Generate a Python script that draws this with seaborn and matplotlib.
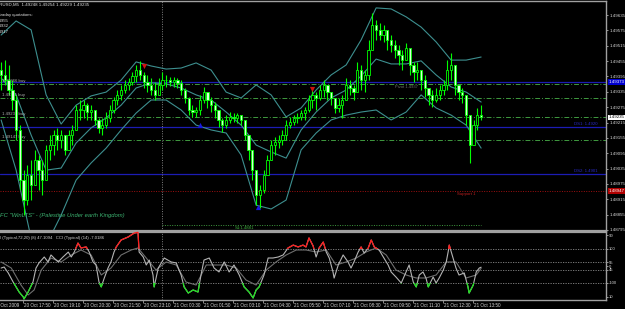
import numpy as np
import pandas as pd
import matplotlib
matplotlib.use("Agg")
import matplotlib.pyplot as plt
import seaborn as sns
from matplotlib.transforms import blended_transform_factory
from matplotlib.patches import Rectangle

# ---------------- data ----------------
chart_title = "EURUSD,M5  1.49248 1.49254 1.49229 1.49235"
intraday_lines = ["Intraday quotations:", "1.4955", "1.4932", "1.4917"]
signature = 'FC "WinLTS" - (Palestine Under earth Kingdom)'
osc_caption = "I (Typical,72,20) (8) 47.1094   CCI (Typical) (14) -7.0186"

first_open = 1.49420
highs = [1.49452, 1.49459, 1.49440, 1.49381, 1.49323, 1.49205, 1.49029, 1.49049, 1.49068, 1.49108,
         1.49088, 1.49068, 1.49127, 1.49166, 1.49186, 1.49194, 1.49186, 1.49166, 1.49186, 1.49205,
         1.49283, 1.49303, 1.49303, 1.49291, 1.49283, 1.49264, 1.49233, 1.49233, 1.49256, 1.49283,
         1.49315, 1.49342, 1.49362, 1.49381, 1.49389, 1.49412, 1.49440, 1.49456, 1.49412, 1.49401,
         1.49389, 1.49373, 1.49389, 1.49412, 1.49401, 1.49393, 1.49393, 1.49389, 1.49381, 1.49350,
         1.49315, 1.49283, 1.49276, 1.49323, 1.49354, 1.49334, 1.49315, 1.49295, 1.49264, 1.49233,
         1.49244, 1.49256, 1.49252, 1.49252, 1.49244, 1.49225, 1.49166, 1.49108, 1.49029, 1.48971,
         1.49029, 1.49088, 1.49147, 1.49158, 1.49166, 1.49186, 1.49225, 1.49237, 1.49244, 1.49252,
         1.49264, 1.49276, 1.49323, 1.49342, 1.49334, 1.49362, 1.49381, 1.49362, 1.49334, 1.49303,
         1.49311, 1.49323, 1.49389, 1.49381, 1.49362, 1.49452, 1.49440, 1.49420, 1.49538, 1.49643,
         1.49616, 1.49604, 1.49596, 1.49565, 1.49557, 1.49538, 1.49518, 1.49499, 1.49526, 1.49499,
         1.49452, 1.49452, 1.49420, 1.49401, 1.49350, 1.49342, 1.49350, 1.49362, 1.49381, 1.49459,
         1.49487, 1.49420, 1.49362, 1.49350, 1.49323, 1.49244, 1.49225, 1.49272, 1.49283]
lows = [1.49342, 1.49362, 1.49323, 1.49264, 1.49147, 1.48951, 1.48853, 1.48892, 1.48912, 1.48971,
        1.48951, 1.48931, 1.49029, 1.49068, 1.49088, 1.49108, 1.49115, 1.49088, 1.49108, 1.49127,
        1.49186, 1.49225, 1.49233, 1.49225, 1.49225, 1.49205, 1.49174, 1.49166, 1.49194, 1.49217,
        1.49252, 1.49283, 1.49303, 1.49330, 1.49342, 1.49362, 1.49373, 1.49381, 1.49350, 1.49334,
        1.49323, 1.49303, 1.49323, 1.49342, 1.49354, 1.49358, 1.49354, 1.49350, 1.49323, 1.49291,
        1.49244, 1.49237, 1.49237, 1.49244, 1.49291, 1.49272, 1.49256, 1.49233, 1.49197, 1.49178,
        1.49194, 1.49213, 1.49217, 1.49213, 1.49205, 1.49147, 1.49068, 1.48990, 1.48892, 1.48881,
        1.48939, 1.49010, 1.49068, 1.49088, 1.49115, 1.49127, 1.49147, 1.49194, 1.49205, 1.49213,
        1.49225, 1.49225, 1.49256, 1.49272, 1.49264, 1.49303, 1.49315, 1.49303, 1.49283, 1.49252,
        1.49256, 1.49233, 1.49315, 1.49323, 1.49303, 1.49342, 1.49342, 1.49334, 1.49381, 1.49499,
        1.49538, 1.49538, 1.49530, 1.49499, 1.49491, 1.49467, 1.49440, 1.49420, 1.49459, 1.49401,
        1.49373, 1.49381, 1.49342, 1.49315, 1.49283, 1.49276, 1.49295, 1.49303, 1.49323, 1.49342,
        1.49381, 1.49323, 1.49303, 1.49291, 1.49205, 1.49057, 1.49127, 1.49186, 1.49225]
closes = [1.49401, 1.49381, 1.49342, 1.49303, 1.49186, 1.48990, 1.48912, 1.49010, 1.48971, 1.49068,
          1.49029, 1.48990, 1.49108, 1.49127, 1.49166, 1.49147, 1.49166, 1.49108, 1.49166, 1.49186,
          1.49264, 1.49264, 1.49283, 1.49256, 1.49264, 1.49225, 1.49194, 1.49205, 1.49233, 1.49264,
          1.49303, 1.49323, 1.49342, 1.49362, 1.49373, 1.49397, 1.49420, 1.49401, 1.49373, 1.49362,
          1.49342, 1.49323, 1.49362, 1.49381, 1.49381, 1.49373, 1.49381, 1.49370, 1.49342, 1.49311,
          1.49264, 1.49256, 1.49264, 1.49303, 1.49334, 1.49303, 1.49283, 1.49264, 1.49225, 1.49205,
          1.49225, 1.49237, 1.49233, 1.49244, 1.49225, 1.49166, 1.49108, 1.49029, 1.48931, 1.48951,
          1.49010, 1.49068, 1.49127, 1.49139, 1.49147, 1.49166, 1.49205, 1.49217, 1.49233, 1.49237,
          1.49252, 1.49264, 1.49303, 1.49323, 1.49311, 1.49342, 1.49362, 1.49334, 1.49311, 1.49272,
          1.49283, 1.49303, 1.49362, 1.49350, 1.49334, 1.49420, 1.49381, 1.49401, 1.49499, 1.49596,
          1.49577, 1.49557, 1.49577, 1.49538, 1.49518, 1.49499, 1.49479, 1.49459, 1.49506, 1.49440,
          1.49412, 1.49420, 1.49381, 1.49350, 1.49323, 1.49303, 1.49323, 1.49342, 1.49362, 1.49420,
          1.49440, 1.49362, 1.49334, 1.49323, 1.49244, 1.49127, 1.49205, 1.49244, 1.49235]

band_bars = [0, 4, 8, 12, 16, 20, 24, 28, 32, 36, 40, 44, 48, 52, 56, 60, 64,
             68, 72, 76, 80, 84, 88, 92, 96, 100, 104, 108, 112, 116, 120, 124, 128]
upper_band = [1.49557, 1.49612, 1.49577, 1.49323, 1.49209, 1.49283, 1.49319, 1.49334, 1.49381,
              1.49452, 1.49436, 1.49424, 1.49428, 1.49448, 1.49420, 1.49334, 1.49311, 1.49362,
              1.49323, 1.49237, 1.49272, 1.49342, 1.49401, 1.49440, 1.49538, 1.49663, 1.49659,
              1.49628, 1.49588, 1.49530, 1.49459, 1.49459, 1.49471]
middle_band = [1.49389, 1.49323, 1.49166, 1.49029, 1.49037, 1.49135, 1.49194, 1.49233, 1.49283,
               1.49350, 1.49370, 1.49366, 1.49350, 1.49323, 1.49303, 1.49256, 1.49205, 1.49127,
               1.49100, 1.49076, 1.49186, 1.49256, 1.49311, 1.49342, 1.49397, 1.49463, 1.49444,
               1.49444, 1.49456, 1.49401, 1.49354, 1.49334, 1.49295]
lower_band = [1.49225, 1.49029, 1.48763, 1.48736, 1.48853, 1.48990, 1.49057, 1.49115, 1.49186,
              1.49252, 1.49303, 1.49303, 1.49264, 1.49205, 1.49186, 1.49174, 1.49088, 1.48892,
              1.48877, 1.48912, 1.49108, 1.49174, 1.49225, 1.49244, 1.49256, 1.49264, 1.49225,
              1.49256, 1.49323, 1.49272, 1.49244, 1.49205, 1.49115]

sell_arrow_bars = [38, 83]
sell_arrow_prices = [1.49436, 1.49345]
buy_arrow_bars = [53, 68.5]
buy_arrow_prices = [1.49205, 1.48884]

buy_levels = [1.49366, 1.49311, 1.49237, 1.49147]
buy_labels = ["1.49366 buy", "1.49311 buy", "1.49237 buy", "1.49147 buy"]
blue_levels = [1.49373, 1.49197, 1.49014]
blue_labels = ["", "DS1: 1.4920", "DS2: 1.4901"]
support1 = 1.48947
s1_level = 1.48814
day_separator_bar = 42.9
current_price = 1.49235

price_ticks = [1.49635, 1.49575, 1.49515, 1.49455, 1.49395, 1.49335, 1.49275, 1.49215,
               1.49155, 1.49095, 1.49035, 1.48975, 1.48915, 1.48855, 1.48795]

time_label_bars = [-2.13, 5.87, 13.87, 21.87, 29.87, 37.87, 45.87, 53.87, 61.87,
                   69.87, 77.87, 85.87, 93.87, 101.87, 109.87, 117.87, 125.87]
time_labels = ["20 Oct 2009", "20 Oct 17:50", "20 Oct 19:10", "20 Oct 20:30", "20 Oct 21:50",
               "20 Oct 23:10", "21 Oct 00:30", "21 Oct 01:50", "21 Oct 03:10", "21 Oct 04:30",
               "21 Oct 05:50", "21 Oct 07:10", "21 Oct 08:30", "21 Oct 09:50", "21 Oct 11:10",
               "21 Oct 12:30", "21 Oct 13:50"]

cci_bars = [0, 0.8, 1.9, 3.2, 4, 4.8, 5.9, 6.1, 7.2, 8.5, 9.3, 10.1, 11.5, 12.5, 13.3, 14.1, 15.2,
            16.5, 17.9, 18.7, 19.5, 20.5, 21.3, 22.7, 23.5, 24.5, 25.3, 26.1, 26.7, 27.5, 28.5,
            29.3, 30.1, 30.7, 32, 33.9, 35.5, 36.5, 36.8, 37.9, 38.7, 39.5, 40.5, 40.8, 41.9,
            42.7, 43.5, 45.3, 46.7, 48, 48.8, 49.9, 51.2, 52.5, 53.3, 54.1, 55.5, 56.8, 58.1,
            59.5, 60.8, 62.1, 63.5, 64.8, 66.1, 67.2, 68, 68.8, 70.1, 71.2, 72.5, 73.9, 75.2,
            76.5, 77.9, 79.2, 80.5, 81.3, 82.1, 83.2, 84, 84.8, 85.9, 86.7, 87.5, 88.5, 88.8,
            89.9, 91.2, 92.5, 93.3, 94.1, 95.2, 96, 96.8, 97.9, 98.7, 99.5, 100.8, 102.1, 103.2,
            104, 105.3, 106.7, 108, 108.8, 109.9, 110.7, 111.5, 112.5, 113.3, 113.9, 115.2, 116,
            116.8, 117.9, 118.7, 119.2, 119.5, 120.5, 121.3, 122.1, 123.5, 124.5, 124.8, 125.9,
            126.7, 127.5, 128]
cci_vals = [-12, -6, -41, -94, -123, -153, -182, -194, -153, -94, -12, 18, 53, 24, 65, 47, 24,
            53, 82, 53, 82, 135, 106, 112, 82, 24, 6, -94, -123, -71, -12,
            24, 82, 112, 153, 171, 194, 198, 82, 53, 6, 35, -53, -123, -12,
            18, 47, 24, 18, -53, -123, -159, -141, -153, -53, 35, 47, -12, -35,
            24, -35, 6, -53, -123, -153, -188, -141, -123, -53, 47, 47, 53, 65,
            106, 123, 112, 123, 112, 165, 118, 53, 106, 141, 82, 47, -35, -71,
            6, 65, 24, -12, 24, 82, 112, 76, 106, 153, 112, 94, 47, 6,
            -35, -65, -100, -35, 6, -94, -123, -53, -35, -71, -123, -65, -100,
            -71, -24, 24, 82, 123, 47, -12, -53, -41, -123, -159, -112,
            -35, -12, -7]

osc_bars = [0, 2.7, 5.3, 7.2, 8.8, 10.7, 13.3, 16, 18.7, 21.3, 24, 26.7, 29.3, 32, 34.7, 36.5,
            38.7, 41.3, 44, 46.7, 49.3, 52, 54.7, 57.3, 60, 62.7, 65.3, 68, 70.7, 73.3, 76,
            78.7, 81.3, 84, 86.7, 89.3, 92, 94.7, 97.3, 100, 102.7, 105.3, 108, 110.7, 113.3,
            116, 118.7, 121.3, 124, 126.7, 128]
osc_vals = [55.2, 47.4, 25.4, 12.5, 19.0, 44.8, 60.3, 55.2, 64.2, 70.7, 64.2, 38.4, 47.4, 64.2,
            70.7, 73.3, 60.3, 44.8, 55.2, 51.3, 29.3, 25.4, 51.3, 51.3, 51.3, 47.4, 31.9, 25.4,
            44.8, 55.2, 64.2, 70.7, 70.7, 68.1, 70.7, 51.3, 55.2, 60.3, 68.1, 73.3, 64.2, 44.8,
            38.4, 34.5, 34.5, 38.4, 55.2, 55.2, 34.5, 38.4, 47.1]
osc_ticks = [90, 55, 45, 10]
cci_ticks = [100, 0, -100]

# ---------------- style ----------------
sns.set_style("dark", rc={"axes.facecolor": "black", "figure.facecolor": "black"})
plt.rcParams["font.family"] = ["DejaVu Sans"]
SMALL = ["Liberation Sans", "DejaVu Sans"]

W, H = 625, 309
fig = plt.figure(figsize=(W / 100, H / 100), dpi=100, facecolor="black")
ax = fig.add_axes([0, 1 - 231 / H, 606 / W, 230 / H])
ax2 = fig.add_axes([0, 1 - 300 / H, 606 / W, 68 / H])
for a in (ax, ax2):
    a.set_facecolor("black")
    a.grid(False)
    a.spines["left"].set_visible(False)
    for s in ("top", "right", "bottom"):
        a.spines[s].set_visible(True)
        a.spines[s].set_color("#a0a0a0")
        a.spines[s].set_linewidth(1.0)
ax.spines["bottom"].set_linewidth(1.6)
ax2.spines["top"].set_linewidth(1.6)

XMIN, XMAX = -0.3, 161.3
ax.set_xlim(XMIN, XMAX)
ax2.set_xlim(XMIN, XMAX)
ax.set_ylim(1.48791, 1.49690)
ax2.set_ylim(-200, 200)

# ---------------- main panel ----------------
idx = np.arange(len(closes))
opens = [first_open] + closes[:-1]
df = pd.DataFrame({"bar": idx, "open": opens, "high": highs, "low": lows, "close": closes})

for lv in blue_levels:
    ax.axhline(lv, color="#1c1cb4", lw=0.9, zorder=1)
for lv in buy_levels:
    ax.axhline(lv, color="#3f9a3f", lw=0.7, ls=(0, (5, 2, 1, 2)), zorder=1)
ax.axhline(support1, color="#a01010", lw=0.7, ls=(0, (1, 1.5)), zorder=1)
ax.plot([day_separator_bar, len(closes) - 1], [s1_level, s1_level], color="#3f9a3f",
        lw=0.7, ls=(0, (1, 1.5)), zorder=1)
ax.axvline(day_separator_bar, color="#808080", lw=0.7, ls=(0, (1, 1.5)), zorder=1)
ax2.axvline(day_separator_bar, color="#808080", lw=0.7, ls=(0, (1, 1.5)), zorder=1)

bands = pd.DataFrame({"bar": band_bars, "upper": upper_band, "middle": middle_band, "lower": lower_band})
for col in ("upper", "middle", "lower"):
    sns.lineplot(data=bands, x="bar", y=col, ax=ax, color="#3d8f8f", lw=0.8,
                 estimator=None, sort=False, zorder=2)

ax.vlines(df["bar"], df["low"], df["high"], color="#00ff00", lw=0.8, zorder=3)
bull = df[df["close"] >= df["open"]]
bear = df[df["close"] < df["open"]]
ax.bar(bull["bar"], (bull["close"] - bull["open"]).clip(lower=0.00002), bottom=bull["open"],
       width=0.6, color="black", edgecolor="#00ff00", lw=0.6, zorder=4)
ax.bar(bear["bar"], bear["close"] - bear["open"], bottom=bear["open"],
       width=0.6, color="#d8ffd8", edgecolor="#00ff00", lw=0.6, zorder=4)

ax.scatter(sell_arrow_bars, sell_arrow_prices, marker="v", s=14, color="#d01010", zorder=5, lw=0)
ax.scatter(buy_arrow_bars, buy_arrow_prices, marker="^", s=14, color="#1818e0", zorder=5, lw=0)

PFS = 3.2
ax.yaxis.tick_right()
ax.set_yticks(price_ticks)
ax.set_yticklabels([f"{p:.5f}" for p in price_ticks], family=SMALL, fontsize=PFS, color="#d8d8d8")
ax.tick_params(axis="y", length=1.5, width=0.5, color="#d8d8d8", pad=0.8, right=True, left=False)
ax.set_xticks([])
ax.set_xlabel("")
ax.set_ylabel("")

trans = blended_transform_factory(ax.transAxes, ax.transData)
box_specs = [(blue_levels[0], "white", "#0000d0"), (current_price, "black", "white"),
             (support1, "white", "#b00000")]
for val, tc, fc in box_specs:
    ax.text(1.004, val, f"{val:.5f}", transform=trans, family=SMALL, fontsize=PFS,
            color=tc, va="center", ha="left",
            bbox=dict(boxstyle="square,pad=0.15", fc=fc, ec="none"), zorder=10, clip_on=False)

for lv, lab in zip(buy_levels, buy_labels):
    ax.text(0.2, lv + 0.00004, lab, family=SMALL, fontsize=3.1, color="#b0b0b0", va="bottom", ha="left")
for lv, lab in zip(blue_levels, blue_labels):
    if lab:
        ax.text(159, lv + 0.00003, lab, family=SMALL, fontsize=3.1, color="#2a2ac8", va="bottom", ha="right")
ax.text(124, support1 - 0.00004, "Support 1", family=SMALL, fontsize=3.1, color="#c02020", va="top", ha="center")
ax.text(65, s1_level - 0.00003, "S1:1.4881", family=SMALL, fontsize=3.1, color="#40b040", va="top", ha="center")
ax.text(108, buy_levels[0] - 0.00003, "Pivot 1.4937", family=SMALL, fontsize=3.0, color="#707070", va="top", ha="center")

fig.text(-7 / W, 1 - 5 / H, chart_title, family=SMALL, fontsize=3.2, color="#e0e0e0", va="center", ha="left")
for k, line in enumerate(intraday_lines):
    fig.text(-4 / W, 1 - (15 + 5.7 * k) / H, line, family=SMALL, fontsize=3.1, color="#e0e0e0",
             va="center", ha="left")
fig.text(0 / W, 1 - 216 / H, signature, family=SMALL, fontsize=4.2, style="italic",
         color="#3cb371", va="center", ha="left")

# ---------------- oscillator panel ----------------
for v in (100, (55 - 50) * 4.55, (45 - 50) * 4.55, -100):
    ax2.axhline(v, color="#8a8a8a", lw=0.6, ls=(0, (1.5, 1.5)), zorder=1)

osc_df = pd.DataFrame({"bar": osc_bars, "val": [(v - 50) * 4.55 for v in osc_vals]})
cci_df = pd.DataFrame({"bar": cci_bars, "val": cci_vals})
sns.lineplot(data=osc_df, x="bar", y="val", ax=ax2, color="#6e6e6e", lw=0.8, estimator=None, sort=False, zorder=2)
sns.lineplot(data=cci_df, x="bar", y="val", ax=ax2, color="#b4b4b4", lw=0.8, estimator=None, sort=False, zorder=3)
red_line, = ax2.plot(cci_df["bar"], cci_df["val"], color="#ff1a1a", lw=0.9, zorder=4)
red_line.set_clip_path(Rectangle((-10, 100), 300, 400, transform=ax2.transData))
green_line, = ax2.plot(cci_df["bar"], cci_df["val"], color="#20e020", lw=0.9, zorder=4)
green_line.set_clip_path(Rectangle((-10, -500), 300, 400, transform=ax2.transData))

ax2.yaxis.tick_right()
tick_pos = [(osc_ticks[0] - 50) * 4.55, cci_ticks[0], (osc_ticks[1] - 50) * 4.55, cci_ticks[1],
            (osc_ticks[2] - 50) * 4.55, cci_ticks[2], (osc_ticks[3] - 50) * 4.55]
tick_lab = [str(osc_ticks[0]), str(cci_ticks[0]), str(osc_ticks[1]), str(cci_ticks[1]),
            str(osc_ticks[2]), str(cci_ticks[2]), str(osc_ticks[3])]
ax2.set_yticks(tick_pos)
ax2.set_yticklabels(tick_lab, family=SMALL, fontsize=3.0, color="#d8d8d8")
ax2.tick_params(axis="y", length=1.5, width=0.5, color="#d8d8d8", pad=0.8, right=True, left=False)
ax2.set_xticks(time_label_bars[1:])
ax2.set_xticklabels([""] * (len(time_label_bars) - 1))
ax2.tick_params(axis="x", length=2, width=0.5, color="#c0c0c0", bottom=True, direction="out")
ax2.set_xlabel("")
ax2.set_ylabel("")
xtrans = blended_transform_factory(ax2.transData, ax2.transAxes)
for b, lab in zip(time_label_bars, time_labels):
    ax2.text(b + 0.3, -0.04, lab, transform=xtrans, family=SMALL, fontsize=3.3, color="#d8d8d8",
             ha="left", va="top", clip_on=False)
fig.text(0, 1 - 238 / H, osc_caption, family=SMALL, fontsize=3.1, color="#d0d0d0", va="center", ha="left")

fig.savefig("out.png", dpi=100, facecolor="black")
